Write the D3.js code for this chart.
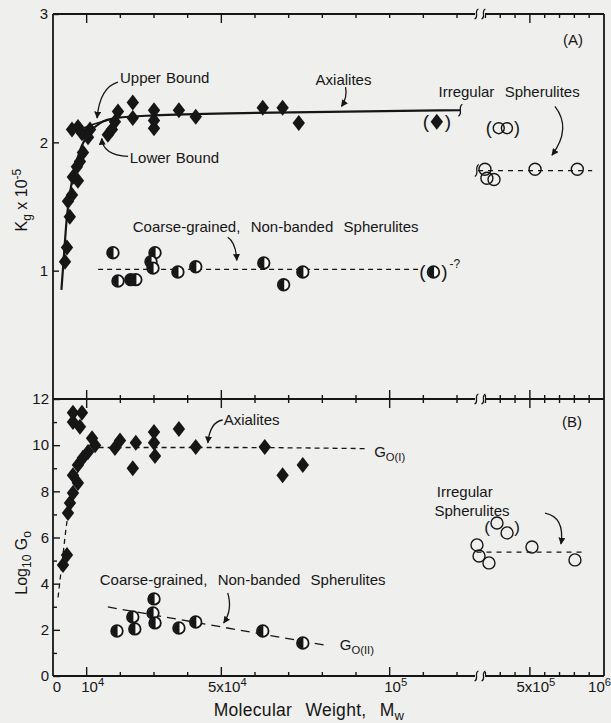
<!DOCTYPE html>
<html>
<head>
<meta charset="utf-8">
<script src="https://cdn.jsdelivr.net/npm/d3@7"></script>
<style>
  body { margin: 0; background: #efefed; }
  svg text { font-family: 'Liberation Sans', Arial, sans-serif; fill: #161616; }
</style>
</head>
<body>
<svg id="chart"></svg>
<script>
const width = 611
const height = 723
const ink = '#161616'
const paper = '#efefed'

// panel A: Kg x 10^-5 vs Mw
const axialitesA = [
  [3560, 1.07], [4150, 1.18], [5000, 1.42], [4450, 1.54], [5640, 1.59], [7400, 1.7], [5900, 1.73],
  [7100, 1.81], [8000, 1.85], [8900, 1.92], [5640, 2.1], [7420, 2.12], [8600, 2.07], [11000, 2.1],
  [10400, 2.04], [16300, 2.06], [17500, 2.1], [18400, 2.16], [19300, 2.24], [23700, 2.31],
  [23700, 2.19], [30000, 2.25], [30000, 2.17], [30000, 2.11], [37400, 2.25], [42400, 2.2],
  [62300, 2.27], [68200, 2.27], [73000, 2.15],
]
const axialitesAParen = [[114000, 2.16]]
const coarseA = [
  [17800, 1.14], [19300, 0.92], [23100, 0.93], [24600, 0.93], [30300, 1.14], [29100, 1.07],
  [29700, 1.02], [37100, 0.99], [42400, 1.03], [62600, 1.06], [68500, 0.89], [74200, 0.99],
]
const coarseAParen = [[113000, 0.99]]
const irregularA = [[1.97e5, 1.79], [2.1e5, 1.72], [2.58e5, 1.71], [5.35e5, 1.79], [8.2e5, 1.79]]
const irregularAParen = [[2.9e5, 2.11], [3.45e5, 2.11]]

const axialiteFitA = [
  [2500, 0.85], [3200, 1.1], [4000, 1.38], [5000, 1.6], [6500, 1.8], [8500, 1.97], [11000, 2.08],
  [14000, 2.15], [19000, 2.19], [30000, 2.21], [60000, 2.23], [121000, 2.25],
]
const upperBoundA = [[8000, 2.1], [12000, 2.14], [20000, 2.2]]
const coarseLineA = [[13400, 1.01], [108900, 1.01]]
const irregularLineA = [[1.5e5, 1.78], [9.2e5, 1.78]]

// panel B: log10 Go vs Mw
const axialitesB = [
  [2970, 4.81], [4150, 5.24], [4450, 7.06], [5040, 7.5], [5930, 7.93], [7400, 8.36], [5930, 8.7],
  [7400, 9.14], [8900, 9.45], [10400, 9.7], [12500, 10.0], [11600, 10.3], [8000, 10.8], [5930, 11.0],
  [5930, 11.4], [8600, 11.4], [18400, 9.88], [19900, 10.2], [23700, 9.0], [24600, 10.1],
  [30000, 10.57], [30000, 10.1], [30300, 9.53], [37400, 10.7], [42400, 9.92], [62900, 9.92],
  [68200, 8.7], [74200, 9.14],
]
const coarseB = [
  [19000, 1.95], [24300, 2.04], [23700, 2.56], [30000, 3.34], [29700, 2.73], [30300, 2.3],
  [37400, 2.08], [42400, 2.34], [62300, 1.95], [74200, 1.43],
]
const irregularB = [[1.43e5, 5.68], [1.57e5, 5.2], [2.24e5, 4.9], [5.14e5, 5.59], [8.04e5, 5.03]]
const irregularBParen = [[2.78e5, 6.63], [3.46e5, 6.2]]

const goILine = [
  [1500, 3.4], [3000, 5.3], [4150, 6.7], [5500, 7.8], [7000, 8.7], [8500, 9.3], [10500, 9.75],
  [14000, 9.9], [50000, 9.9], [93000, 9.85],
]
const goIILine = [[16300, 2.99], [80700, 1.34]]
const irregularLineB = [[1.4e5, 5.37], [8.8e5, 5.37]]

// axis ticks
const kTicks = [1, 2, 3]
const gMajor = [0, 2, 4, 6, 8, 10, 12]
const gMinor = [1, 3, 5, 7, 9, 11]
const xTicksLeft = d3.range(1, 13).map((i) => i * 1e4)
const xTicksRight = d3.range(2, 10).map((i) => i * 1e5)
const xMajor = [1e4, 5e4, 1e5, 5e5]
const xMajorTop = [1e4, 5e4, 5e5]
const xLabels = [
  [0, '0', ''], [1e4, '10', '4'], [5e4, '5x10', '4'], [1e5, '10', '5'], [5e5, '5x10', '5'], [1e6, '10', '6'],
]

// scales (x axis is broken between 1.2e5 and 1.5e5)
const xL = d3.scaleLinear().domain([0, 1.2e5]).range([53, 457])
const xR = d3.scaleLinear().domain([1.5e5, 1e6]).range([478, 604])
const x = (m) => (m < 1.35e5 ? xL(m) : xR(m))
const yA = d3.scaleLinear().domain([0, 3]).range([399, 14])
const yB = d3.scaleLinear().domain([0, 12]).range([676, 399])

const svg = d3.select('#chart').attr('width', width).attr('height', height)
svg.append('rect').attr('width', width).attr('height', height).attr('fill', paper)

// text with sub/superscripts: parts = [[str, 'sub'|'sup'|undefined], ...]
function rich(sel, parts) {
  let shift = 0
  parts.forEach(([str, kind]) => {
    const target = kind === 'sub' ? 4 : kind === 'sup' ? -6 : 0
    sel.append('tspan')
      .attr('dy', target - shift)
      .attr('font-size', kind ? '0.75em' : null)
      .text(str)
    shift = target
  })
  return sel
}

// frame
const x0 = x(0)
const x1 = x(1e6)
const frame = svg.append('g').attr('stroke', ink).attr('stroke-width', 1.8)
;[yA(3), yA(0), yB(0)].forEach((yy) =>
  frame.append('line').attr('x1', x0).attr('x2', x1).attr('y1', yy).attr('y2', yy))
frame.append('line').attr('x1', x0).attr('x2', x0).attr('y1', yA(3)).attr('y2', yB(0))
frame.append('line').attr('x1', x1).attr('x2', x1).attr('y1', yA(3)).attr('y2', yB(0))

// x ticks on the three horizontal lines
function xTicks(yy, dir, majors) {
  const g = svg.append('g').attr('stroke', ink).attr('stroke-width', 1.4)
  xTicksLeft.concat(xTicksRight).forEach((v) => {
    const len = majors.includes(v) ? 9 : 4
    const up = dir === 'down' ? 0 : len
    const down = dir === 'up' ? 0 : len
    g.append('line').attr('x1', x(v)).attr('x2', x(v)).attr('y1', yy - up).attr('y2', yy + down)
  })
  // break mark
  const bx = xR(1.5e5) + 2
  g.append('rect').attr('x', bx - 5).attr('y', yy - 2).attr('width', 10).attr('height', 4)
    .attr('fill', paper).attr('stroke', 'none')
  ;[-3.5, 3.5].forEach((dx) =>
    g.append('path')
      .attr('d', `M${bx + dx - 2},${yy + 5} C${bx + dx + 3},${yy + 3} ${bx + dx - 3},${yy - 3} ${bx + dx + 2},${yy - 5}`)
      .attr('fill', 'none').attr('stroke-width', 1.3))
}
xTicks(yA(3), 'down', xMajorTop)
xTicks(yA(0), 'cross', xMajor)
xTicks(yB(0), 'up', xMajor)

// y axes
function styleAxis(g) {
  g.select('.domain').remove()
  g.attr('font-family', null).attr('font-size', 15)
  g.selectAll('line').attr('stroke', ink).attr('stroke-width', 1.4)
  g.selectAll('text').attr('fill', ink)
}
svg.append('g').attr('transform', `translate(${x0},0)`)
  .call(d3.axisLeft(yA).tickValues(kTicks).tickSize(-6).tickPadding(5).tickFormat(d3.format('d')))
  .call(styleAxis)
svg.append('g').attr('transform', `translate(${x0},0)`)
  .call(d3.axisLeft(yB).tickValues(gMajor).tickSize(-7).tickPadding(4).tickFormat(d3.format('d')))
  .call(styleAxis)
svg.append('g').attr('transform', `translate(${x0},0)`)
  .call(d3.axisLeft(yB).tickValues(gMinor).tickSize(-4).tickFormat(''))
  .call(styleAxis)

// x tick labels
xLabels.forEach(([v, base, exp], i) => {
  const last = i === xLabels.length - 1
  const t = svg.append('text').attr('x', last ? width : x(v) + (exp ? 6 : 4)).attr('y', 692)
    .attr('text-anchor', last ? 'end' : 'middle').attr('font-size', 15)
  rich(t, exp ? [[base], [exp, 'sup']] : [[base]])
})

// axis titles
rich(svg.append('text').attr('transform', `translate(27,${yA(1.55)}) rotate(-90)`)
  .attr('text-anchor', 'middle').attr('font-size', 16),
  [['K'], ['g', 'sub'], [' x 10'], ['-5', 'sup']])
rich(svg.append('text').attr('transform', `translate(27,${yB(4.9)}) rotate(-90)`)
  .attr('text-anchor', 'middle').attr('font-size', 16),
  [['Log'], ['10', 'sub'], [' G'], ['o', 'sub']])
rich(svg.append('text').attr('x', 309).attr('y', 716).attr('text-anchor', 'middle')
  .attr('font-size', 17.5).style('word-spacing', '8px').style('letter-spacing', '0.3px'),
  [['Molecular Weight, M'], ['w', 'sub']])

// lines
const lineGen = (ys) => d3.line().x((d) => x(d[0])).y((d) => ys(d[1])).curve(d3.curveMonotoneX)
function drawLine(data, ys, dash, w) {
  svg.append('path').datum(data).attr('d', lineGen(ys)).attr('fill', 'none')
    .attr('stroke', ink).attr('stroke-width', w).attr('stroke-dasharray', dash)
}
drawLine(axialiteFitA, yA, null, 2.2)
drawLine(upperBoundA, yA, null, 1.6)
drawLine(coarseLineA, yA, '5,4', 1.3)
drawLine(irregularLineA, yA, '5,5', 1.3)
drawLine(goILine, yB, '5,4', 1.3)
drawLine(goIILine, yB, '9,6', 1.3)
drawLine(irregularLineB, yB, '5,5', 1.3)

// small break squiggles at line ends
function squiggle(m, v, ys) {
  const px = x(m), py = ys(v)
  svg.append('path')
    .attr('d', `M${px - 2},${py + 6} C${px + 3},${py + 3} ${px - 3},${py - 3} ${px + 2},${py - 6}`)
    .attr('fill', 'none').attr('stroke', ink).attr('stroke-width', 1.3)
}
squiggle(axialiteFitA[axialiteFitA.length - 1][0], 2.25, yA)
squiggle(1.42e5, 1.78, yA)

// marks
const diamond = 'M0,-8L6.2,0L0,8L-6.2,0Z'
function diamonds(data, ys) {
  svg.append('g').selectAll('path').data(data).join('path')
    .attr('transform', (d) => `translate(${x(d[0])},${ys(d[1])})`)
    .attr('d', diamond).attr('fill', ink)
}
function halfCircles(data, ys) {
  const g = svg.append('g').selectAll('g').data(data).join('g')
    .attr('transform', (d) => `translate(${x(d[0])},${ys(d[1])})`)
  g.append('circle').attr('r', 5.8).attr('fill', '#fafafa').attr('stroke', ink).attr('stroke-width', 1.8)
  g.append('path').attr('d', 'M0.6,-5.8A5.8,5.8 0 0 0 0.6,5.8Z').attr('fill', ink)
}
function openCircles(data, ys, r = 6) {
  svg.append('g').selectAll('circle').data(data).join('circle')
    .attr('cx', (d) => x(d[0])).attr('cy', (d) => ys(d[1])).attr('r', r)
    .attr('fill', 'none').attr('stroke', ink).attr('stroke-width', 1.4)
}
function parens(data, ys, gap = 11, size = 19) {
  const xs = data.map((d) => x(d[0]))
  const cy = d3.mean(data, (d) => ys(d[1]))
  const g = svg.append('g').attr('font-size', size).attr('text-anchor', 'middle')
  g.append('text').attr('x', d3.min(xs) - gap).attr('y', cy + size * 0.32).text('(')
  g.append('text').attr('x', d3.max(xs) + gap).attr('y', cy + size * 0.32).text(')')
}

diamonds(axialitesA, yA)
diamonds(axialitesAParen, yA)
parens(axialitesAParen, yA)
halfCircles(coarseA, yA)
halfCircles(coarseAParen, yA)
parens(coarseAParen, yA)
svg.append('text').attr('x', x(coarseAParen[0][0]) + 16).attr('y', yA(coarseAParen[0][1]) - 4)
  .attr('font-size', 12).text('-?')
openCircles(irregularA, yA)
openCircles(irregularAParen, yA, 5.5)
parens(irregularAParen, yA, 10, 18)

diamonds(axialitesB, yB)
halfCircles(coarseB, yB)
openCircles(irregularB, yB)
openCircles(irregularBParen, yB)
parens(irregularBParen, yB, 10, 17)

// annotations
const notesA = [
  [19900, 2.46, [['Upper Bound']]],
  [22800, 1.84, [['Lower Bound']]],
  [78000, 2.45, [['Axialites']]],
  [114500, 2.35, [['Irregular  Spherulites']]],
  [23700, 1.3, [['Coarse-grained,  Non-banded  Spherulites']]],
  [7.23e5, 2.76, [['(A)']]],
]
const notesB = [
  [50700, 10.87, [['Axialites']]],
  [95400, 9.49, [['G'], ['O(I)', 'sub']]],
  [7.17e5, 10.79, [['(B)']]],
  [114000, 7.75, [['Irregular']]],
  [113300, 6.93, [['Spherulites']]],
  [13900, 3.94, [['Coarse-grained,  Non-banded  Spherulites']]],
  [85200, 1.13, [['G'], ['O(II)', 'sub']]],
]
function notes(list, ys) {
  list.forEach(([m, v, parts]) => {
    const t = svg.append('text').attr('x', x(m)).attr('y', ys(v)).attr('font-size', 15)
      .style('white-space', 'pre').style('word-spacing', '1px')
    rich(t, parts)
  })
}
notes(notesA, yA)
notes(notesB, yB)

// curved arrows: [from, control, to]
const arrowsA = [
  [[19300, 2.47], [13900, 2.43], [13100, 2.19]],
  [[22300, 1.89], [14800, 1.9], [14500, 2.03]],
  [[86900, 2.43], [87500, 2.35], [85700, 2.28]],
  [[6.69e5, 2.28], [7.84e5, 2.11], [6.49e5, 1.9]],
  [[51900, 1.26], [54300, 1.22], [54600, 1.08]],
]
const arrowsB = [
  [[50400, 11.09], [46600, 11.0], [46000, 10.1]],
  [[6.02e5, 7.06], [7.37e5, 6.89], [7.1e5, 5.72]],
  [[51900, 3.6], [53400, 2.86], [50700, 2.3]],
]
svg.append('defs').append('marker').attr('id', 'head')
  .attr('viewBox', '0 0 10 10').attr('refX', 9).attr('refY', 5)
  .attr('markerWidth', 7).attr('markerHeight', 7).attr('markerUnits', 'userSpaceOnUse')
  .attr('orient', 'auto')
  .append('path').attr('d', 'M0,0L10,5L0,10Z').attr('fill', ink)
function arrows(list, ys) {
  list.forEach(([a, c, b]) => {
    svg.append('path')
      .attr('d', `M${x(a[0])},${ys(a[1])}Q${x(c[0])},${ys(c[1])} ${x(b[0])},${ys(b[1])}`)
      .attr('fill', 'none').attr('stroke', ink).attr('stroke-width', 1.3)
      .attr('marker-end', 'url(#head)')
  })
}
arrows(arrowsA, yA)
arrows(arrowsB, yB)
</script>
</body>
</html>
